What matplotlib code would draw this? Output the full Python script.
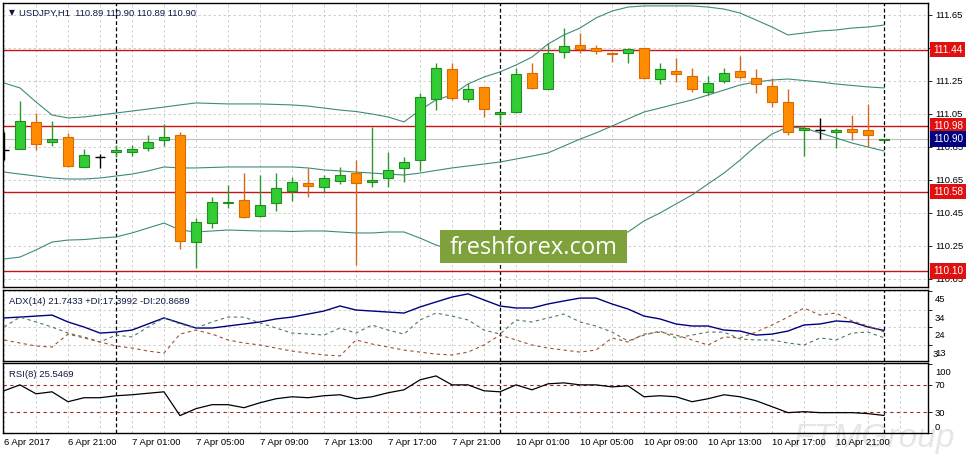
import matplotlib
matplotlib.use("Agg")
import matplotlib.pyplot as plt
from matplotlib.patches import Rectangle
from matplotlib.transforms import ScaledTranslation, blended_transform_factory
import numpy as np

plt.rcParams['font.family'] = ['Liberation Sans', 'DejaVu Sans']

# USDJPY H1, 6 Apr 2017 17:00 .. 11 Apr 2017 00:00
opens = [110.830, 110.838, 111.000, 110.878, 110.909, 110.727, 110.788, 110.818,
         110.818, 110.846, 110.891, 110.921, 110.276, 110.388, 110.508, 110.529,
         110.434, 110.509, 110.585, 110.630, 110.606, 110.646, 110.694, 110.636,
         110.660, 110.721, 110.771, 111.139, 111.321, 111.139, 111.212, 111.048,
         111.064, 111.298, 111.200, 111.428, 111.468, 111.448, 111.422, 111.418,
         111.448, 111.260, 111.311, 111.280, 111.185, 111.250, 111.311, 111.266,
         111.220, 111.123, 110.953, 110.953, 110.939, 110.959, 110.953, 110.890]
highs = [110.940, 111.131, 111.054, 111.008, 110.933, 110.838, 110.806, 110.862,
         110.862, 110.923, 110.988, 110.943, 110.418, 110.549, 110.620, 110.691,
         110.680, 110.691, 110.666, 110.721, 110.680, 110.731, 110.771, 110.973,
         110.822, 110.791, 111.175, 111.357, 111.361, 111.236, 111.215, 111.064,
         111.327, 111.357, 111.478, 111.569, 111.539, 111.468, 111.428, 111.448,
         111.450, 111.361, 111.387, 111.327, 111.280, 111.327, 111.402, 111.321,
         111.266, 111.200, 110.977, 111.024, 110.967, 111.045, 111.111, 110.900]
lows = [110.770, 110.835, 110.832, 110.858, 110.727, 110.727, 110.725, 110.791,
        110.795, 110.828, 110.858, 110.230, 110.115, 110.357, 110.478, 110.418,
        110.428, 110.464, 110.523, 110.549, 110.569, 110.626, 110.135, 110.606,
        110.606, 110.636, 110.706, 111.074, 111.135, 111.125, 111.034, 110.994,
        111.054, 111.200, 111.200, 111.388, 111.418, 111.412, 111.367, 111.357,
        111.262, 111.230, 111.246, 111.185, 111.165, 111.236, 111.260, 111.179,
        111.091, 110.923, 110.795, 110.897, 110.842, 110.892, 110.852, 110.890]
closes = [110.830, 111.008, 110.866, 110.898, 110.737, 110.800, 110.788, 110.832,
          110.836, 110.878, 110.909, 110.282, 110.397, 110.515, 110.514, 110.428,
          110.497, 110.600, 110.636, 110.616, 110.660, 110.678, 110.630, 110.648,
          110.711, 110.757, 111.151, 111.327, 111.145, 111.200, 111.078, 111.060,
          111.292, 111.209, 111.418, 111.462, 111.442, 111.432, 111.414, 111.442,
          111.266, 111.321, 111.292, 111.200, 111.236, 111.297, 111.276, 111.230,
          111.125, 110.939, 110.963, 110.953, 110.951, 110.939, 110.925, 110.900]

bb_upper = [111.238, 111.208, 111.123, 111.044, 111.026, 111.032, 111.044, 111.056,
            111.068, 111.080, 111.092, 111.105, 111.117, 111.114, 111.111, 111.111,
            111.111, 111.108, 111.105, 111.098, 111.086, 111.074, 111.065, 111.050,
            111.032, 111.002, 111.074, 111.135, 111.165, 111.232, 111.274, 111.305,
            111.347, 111.395, 111.474, 111.529, 111.571, 111.632, 111.674, 111.698,
            111.705, 111.705, 111.705, 111.705, 111.698, 111.686, 111.662, 111.620,
            111.577, 111.529, 111.541, 111.553, 111.559, 111.571, 111.577, 111.589]
bb_middle = [110.698, 110.686, 110.674, 110.662, 110.656, 110.656, 110.662, 110.674,
             110.686, 110.705, 110.729, 110.723, 110.723, 110.726, 110.729, 110.729,
             110.729, 110.729, 110.729, 110.723, 110.711, 110.705, 110.698, 110.692,
             110.686, 110.680, 110.692, 110.708, 110.723, 110.735, 110.747, 110.759,
             110.777, 110.795, 110.814, 110.856, 110.898, 110.935, 110.977, 111.020,
             111.062, 111.086, 111.111, 111.135, 111.165, 111.195, 111.226, 111.244,
             111.256, 111.262, 111.253, 111.244, 111.232, 111.223, 111.214, 111.208]
bb_lower = [110.171, 110.183, 110.226, 110.274, 110.286, 110.289, 110.298, 110.305,
            110.329, 110.359, 110.389, 110.347, 110.335, 110.341, 110.347, 110.344,
            110.341, 110.341, 110.338, 110.341, 110.341, 110.335, 110.329, 110.329,
            110.335, 110.335, 110.298, 110.256, 110.226, 110.214, 110.208, 110.208,
            110.214, 110.220, 110.232, 110.244, 110.262, 110.286, 110.311, 110.335,
            110.402, 110.450, 110.505, 110.559, 110.626, 110.692, 110.771, 110.856,
            110.929, 110.971, 110.965, 110.935, 110.905, 110.874, 110.850, 110.826]

adx = [29.2, 29.7, 30.3, 30.9, 26.8, 23.8, 20.2, 20.8, 22.0, 25.6, 29.2, 26.2,
       23.2, 23.2, 24.4, 25.6, 26.8, 28.6, 29.7, 31.5, 33.3, 36.3, 33.9, 33.3,
       32.7, 32.1, 35.7, 38.7, 41.6, 43.5, 39.9, 36.3, 35.1, 35.1, 37.5, 39.3,
       41.0, 41.0, 37.5, 34.5, 30.3, 28.6, 25.6, 24.4, 24.4, 22.0, 21.4, 19.0,
       19.6, 21.4, 25.0, 25.6, 27.4, 26.8, 23.8, 21.7433]
plus_di = [23.8, 29.7, 26.8, 23.8, 20.2, 17.9, 14.9, 19.0, 17.9, 23.8, 29.2, 25.6,
           23.2, 26.8, 29.7, 29.7, 26.2, 23.2, 20.2, 19.6, 19.0, 23.2, 20.2, 25.0,
           22.0, 19.6, 28.0, 32.1, 30.3, 28.0, 22.0, 19.6, 28.0, 26.8, 29.2, 31.5,
           26.8, 24.4, 20.8, 15.5, 19.0, 21.4, 17.3, 19.0, 20.8, 20.8, 16.7, 16.1,
           16.1, 14.3, 13.1, 17.3, 16.1, 20.2, 20.8, 17.3992]
minus_di = [16.1, 14.3, 12.5, 11.9, 19.6, 17.3, 14.9, 12.5, 11.3, 9.5, 8.3, 19.6,
            22.0, 19.6, 16.1, 14.3, 13.1, 11.3, 9.5, 8.3, 7.2, 6.6, 16.1, 13.7,
            11.9, 10.1, 8.9, 7.7, 7.2, 8.9, 13.1, 19.0, 16.1, 13.1, 11.3, 10.1,
            8.9, 10.1, 17.3, 14.9, 19.6, 20.8, 19.0, 16.1, 13.1, 17.9, 17.3, 20.8,
            25.0, 29.7, 35.1, 30.9, 32.1, 27.4, 24.4, 20.8689]
rsi = [61.4, 70.0, 57.0, 59.9, 45.5, 51.3, 51.3, 54.2, 55.6, 57.8, 59.9, 25.3,
       35.4, 41.2, 41.2, 36.8, 44.0, 49.8, 52.7, 51.3, 54.2, 55.6, 49.8, 52.7,
       58.5, 62.8, 77.3, 83.0, 70.0, 70.0, 61.4, 59.9, 70.0, 62.8, 71.5, 72.9,
       70.0, 70.0, 67.1, 68.6, 52.7, 54.2, 52.7, 45.5, 49.8, 55.6, 52.7, 46.9,
       38.3, 29.6, 31.0, 29.6, 29.6, 29.6, 28.2, 25.5469]

levels = [111.44, 110.98, 110.58, 110.10]
bid = 110.90
price_ticks = [111.65, 111.45, 111.25, 111.05, 110.85, 110.65, 110.45, 110.25, 110.05]
hidden_ticks = [111.45]   # label sits under the 111.44 box
adx_ticks = [45, 34, 24, 13]
rsi_levels = [70, 30]
time_labels = ["6 Apr 2017", "6 Apr 21:00", "7 Apr 01:00", "7 Apr 05:00", "7 Apr 09:00",
               "7 Apr 13:00", "7 Apr 17:00", "7 Apr 21:00", "10 Apr 01:00", "10 Apr 05:00",
               "10 Apr 09:00", "10 Apr 13:00", "10 Apr 17:00", "10 Apr 21:00"]
day_starts = [7, 31, 55]

FS = 6.8
GRID = dict(color='#c8c8c8', lw=0.6, linestyle=(0, (3, 3)))
SEP = dict(color='black', lw=0.9, linestyle=(0, (3, 2)))

o = np.array(opens); h = np.array(highs); l = np.array(lows); c = np.array(closes)
n = len(o)
x = np.arange(n)
xlim = (-0.0625, 57.75)

fig = plt.figure(figsize=(9.71, 4.57), dpi=100)
W, H = 971, 457
ax = fig.add_axes([3 / W, 1 - 287 / H, 925 / W, 284 / H])
ax_adx = fig.add_axes([3 / W, 1 - 361 / H, 925 / W, 71 / H])
ax_rsi = fig.add_axes([3 / W, 1 - 433 / H, 925 / W, 70 / H])

for a in (ax, ax_adx, ax_rsi):
    a.set_xlim(*xlim)
    a.patch.set_alpha(0)
    for s in a.spines.values():
        s.set_color('black')
        s.set_linewidth(1.0)
    a.yaxis.tick_right()
    a.tick_params(axis='y', direction='out', length=3, width=0.6, pad=2,
                  labelsize=FS, colors='black')
    a.tick_params(axis='x', length=0)
    a.set_xticks(np.arange(0, n + 2, 2), minor=False)
    a.xaxis.grid(True, **GRID)
    a.set_axisbelow(True)
    for d in day_starts:
        a.axvline(d, zorder=1.5, **SEP)

# ---- main price chart
ax.set_ylim(110.0015, 111.7227)
ax.set_yticks(price_ticks)
ax.set_yticklabels(["" if p in hidden_ticks else f"{p:.2f}" for p in price_ticks])
ax.yaxis.grid(True, **GRID)
ax.axhline(bid, color='#c0c0c0', lw=0.8, zorder=1.2)

for lv in levels:
    ax.axhline(lv, color='#c81414', lw=1.0, zorder=1.8)

ax.plot(x, bb_upper, color='#3d8c78', lw=0.8, zorder=2)
ax.plot(x, bb_middle, color='#3d8c78', lw=0.8, zorder=2)
ax.plot(x, bb_lower, color='#3d8c78', lw=0.8, zorder=2)

up = c > o
dn = c < o
flat = ~(up | dn)
wick_col = np.where(up, '#2a9a2a', np.where(dn, '#d2691e', 'black'))
fill_col = np.where(up, '#32cd32', '#ff8c00')
edge_col = np.where(up, '#228b22', '#d86a00')
ax.vlines(x, l, h, colors=wick_col, lw=1.0, zorder=3)
body = np.where(flat, 0.0, c - o)
ax.bar(x[~flat], body[~flat], bottom=o[~flat], width=0.62, color=fill_col[~flat],
       edgecolor=edge_col[~flat], lw=0.8, zorder=4)
ax.hlines(c[flat], x[flat] - 0.31, x[flat] + 0.31, colors='black', lw=1.0, zorder=4)
ax.set_xticklabels([])

tr = blended_transform_factory(ax.transAxes, ax.transData)
for lv in levels:
    ax.text(1.0 + 5 / 925, lv, f"{lv:.2f}", transform=tr, ha='left', va='center',
            fontsize=7.2, color='white', zorder=6, clip_on=False,
            bbox=dict(boxstyle='square,pad=0.28', fc='#e01010', ec='none'))
ax.text(1.0 + 5 / 925, bid, f"{bid:.2f}", transform=tr, ha='left', va='center',
        fontsize=7.2, color='white', zorder=6, clip_on=False,
        bbox=dict(boxstyle='square,pad=0.28', fc='#000080', ec='none'))

ax.text(0.006, 0.965, "\u25bc", transform=ax.transAxes, fontsize=5.5, color='#101840',
        va='center', ha='left', family=['DejaVu Sans'])
ax.text(0.0175, 0.965, f"USDJPY,H1  {opens[-1]:.2f} {highs[-1]:.2f} {lows[-1]:.2f} {closes[-1]:.2f}",
        transform=ax.transAxes, fontsize=FS, color='#101840', va='center', ha='left')

# ---- ADX panel
ax_adx.set_ylim(3.6, 45.8)
ax_adx.plot(x, adx, color='#000080', lw=1.0, zorder=3)
ax_adx.plot(x, plus_di, color='#4a7a5a', lw=0.8, linestyle=(0, (3, 3)), zorder=3)
ax_adx.plot(x, minus_di, color='#a0522d', lw=0.8, linestyle=(0, (3, 3)), zorder=3)
ax_adx.set_yticks(adx_ticks)
ax_adx.set_yticklabels([str(t) for t in adx_ticks])
ax_adx.yaxis.grid(True, **GRID)
ax_adx.set_xticklabels([])
down = ScaledTranslation(0, -7.5 / 100, fig.dpi_scale_trans)
for t in ax_adx.yaxis.get_major_ticks():
    t.label2.set_transform(t.label2.get_transform() + down)
ax_adx.text(1.0 + 5 / 925, 0.09, "3", transform=ax_adx.transAxes, fontsize=FS,
            va='center', ha='left', clip_on=False)
ax_adx.text(0.006, 0.84, f"ADX(14) {adx[-1]:.4f} +DI:{plus_di[-1]:.4f} -DI:{minus_di[-1]:.4f}",
            transform=ax_adx.transAxes, fontsize=FS, color='#101840', va='center', ha='left')

# ---- RSI panel
ax_rsi.set_ylim(0.7, 101.8)
ax_rsi.plot(x, rsi, color='black', lw=0.9, zorder=3)
for lv in rsi_levels:
    ax_rsi.axhline(lv, color='#9a2a2a', lw=0.8, linestyle=(0, (3, 3)), zorder=2)
ax_rsi.set_yticks([100, 70, 30, 0])
ax_rsi.set_yticklabels(["100", "70", "30", "0"])
rt = ax_rsi.yaxis.get_major_ticks()
rt[0].label2.set_transform(rt[0].label2.get_transform() + ScaledTranslation(0, -6.8 / 100, fig.dpi_scale_trans))
rt[3].label2.set_transform(rt[3].label2.get_transform() + ScaledTranslation(0, 6.5 / 100, fig.dpi_scale_trans))
ax_rsi.text(0.006, 0.84, f"RSI(8) {rsi[-1]:.4f}", transform=ax_rsi.transAxes,
            fontsize=FS, color='#101840', va='center', ha='left')

# time labels every 4 bars, left aligned on the bar
label_pos = np.arange(len(time_labels)) * 4
for p, s in zip(label_pos, time_labels):
    ax_rsi.text(p, -0.14, s, transform=blended_transform_factory(ax_rsi.transData, ax_rsi.transAxes),
                fontsize=FS, ha='left', va='center', clip_on=False, zorder=6)
ax_rsi.set_xticklabels([])

# watermarks (the faint one sits behind the axes contents)
fig.add_artist(Rectangle((440 / W, 1 - 263 / H), 187 / W, 33 / H, transform=fig.transFigure,
                         facecolor='#7fa13b', edgecolor='none', zorder=5))
fig.text(533.5 / W, 1 - 248 / H, "freshforex.com", fontsize=17, color='white',
         ha='center', va='center', family=['Open Sans', 'DejaVu Sans'], zorder=6)
fig.text(875 / W, 1 - 438 / H, "FTMGroup", fontsize=24, color='#e6e6e6', style='italic',
         ha='center', va='center', zorder=-1)

fig.savefig("out.png", dpi=100)
